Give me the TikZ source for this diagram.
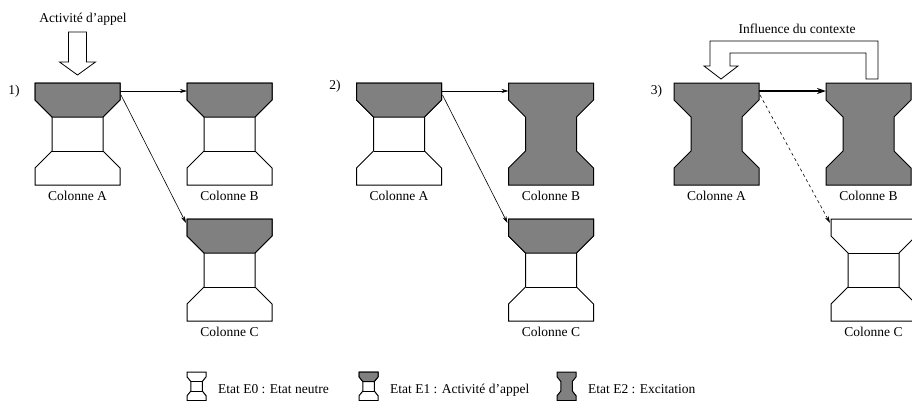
\documentclass[tikz,border=0pt]{standalone}
\usepackage{fontspec}
\setmainfont{Liberation Serif}
\usetikzlibrary{arrows.meta,calc,positioning}

% contour d'une colonne (85 x 102, origine en haut a gauche)
\newcommand{\bobine}{(0,0) -- (85,0) -- (85,17) -- (68,34) -- (68,68) -- (85,85)
  -- (85,102) -- (0,102) -- (0,85) -- (17,68) -- (17,34) -- (0,17) -- cycle}
\newcommand{\reperes}{%
  \coordinate (-n) at (42.5,0);
  \coordinate (-s) at (42.5,102);
  \coordinate (-e) at (85,8);
  \coordinate (-o) at (0,8);
  \coordinate (-eb) at (86,12);
  \coordinate (-no) at (-1,4);}

\begin{document}
\begin{tikzpicture}[x=1pt,y=-1pt,>={Stealth[length=7pt,width=4pt]},
    every node/.style={font=\fontsize{13.5}{16}\selectfont, inner sep=0pt},
    trait/.style={line width=1pt, line join=miter},
    vide/.style={trait, draw, fill=white},
    plein/.style={trait, draw, fill=gray},
    creux/.style={line width=0.8pt, draw, fill=white},
    lien/.style={->, line width=0.6pt},
    lien fort/.style={-{Stealth[length=9pt,width=6pt]}, line width=1.6pt},
    etiquette/.style={below=6pt of #1},
    pics/colE0/.style={code={
      \draw[vide] \bobine;
      \draw[line width=0.8pt] (17,34) -- (68,34) (17,68) -- (68,68);
      \reperes}},
    pics/colE1/.style={code={
      \draw[vide] \bobine;
      \draw[plein] (0,0) -- (85,0) -- (85,17) -- (68,34) -- (17,34) -- (0,17) -- cycle;
      \draw[line width=0.8pt] (17,68) -- (68,68);
      \reperes}},
    pics/colE2/.style={code={
      \draw[plein] \bobine;
      \reperes}}]
\useasboundingbox (0,0) rectangle (912,400);

% 1)
\node (num1) at (14,91.5) {1)};
\pic (A1) at (35,83) {colE1};
\pic (B1) at (187,83) {colE1};
\pic (C1) at (187,219) {colE1};
\node[etiquette=A1-s] (labA1) {Colonne A};
\node[etiquette=B1-s] (labB1) {Colonne B};
\node[etiquette=C1-s] (labC1) {Colonne C};
\draw[lien] (A1-e) -- (B1-o);
\draw[lien] (A1-eb) -- (C1-no);
\draw[creux] ($(A1-n)+(-9,-51)$) -- ++(18,0) -- ++(0,30) -- ++(9,0)
  -- ($(A1-n)+(0,-8)$) -- ++(-18,-13) -- ++(9,0) -- cycle;
\node (appel) at (83,19.5) {Activité d'appel};

% 2)
\node (num2) at (335,86) {2)};
\pic (A2) at (356.5,83) {colE1};
\pic (B2) at (508.5,83) {colE2};
\pic (C2) at (508.5,219) {colE1};
\node[etiquette=A2-s] (labA2) {Colonne A};
\node[etiquette=B2-s] (labB2) {Colonne B};
\node[etiquette=C2-s] (labC2) {Colonne C};
\draw[lien] (A2-e) -- (B2-o);
\draw[lien] (A2-eb) -- (C2-no);

% 3)
\node (num3) at (656.5,91) {3)};
\pic (A3) at (674,83) {colE2};
\pic (B3) at (826,83) {colE2};
\pic (C3) at (831,219) {colE0};
\node[etiquette=A3-s] (labA3) {Colonne A};
\node[etiquette=B3-s] (labB3) {Colonne B};
\node[etiquette=C3-s] (labC3) {Colonne C};
\draw[lien fort] (A3-e) -- (B3-o);
\draw[lien, dash pattern=on 3pt off 3pt] (A3-eb) -- (C3-no);
\draw[creux] ($(A3-n)+(4.5,-4)$) -- ++(17,-13) -- ++(-8,0) -- ++(0,-13)
  -- ($(B3-n)+(-2.5,-30)$) -- ++(0,26) -- ++(12,0) -- ++(0,-38)
  -- ($(A3-n)+(-6.5,-42)$) -- ++(0,25) -- ++(-6,0) -- cycle;
\node (contexte) at (797,29) {Influence du contexte};

% legende
\pic[xscale=0.225,yscale=0.28] (L0) at (187,372) {colE0};
\pic[xscale=0.225,yscale=0.28] (L1) at (359,372) {colE1};
\pic[xscale=0.225,yscale=0.28] (L2) at (557,372) {colE2};
\node[anchor=base west] (tL0) at (218,393) {Etat E0 : Etat neutre};
\node[anchor=base west] (tL1) at (390,393) {Etat E1 : Activité d'appel};
\node[anchor=base west] (tL2) at (588,393) {Etat E2 : Excitation};
\end{tikzpicture}
\end{document}
